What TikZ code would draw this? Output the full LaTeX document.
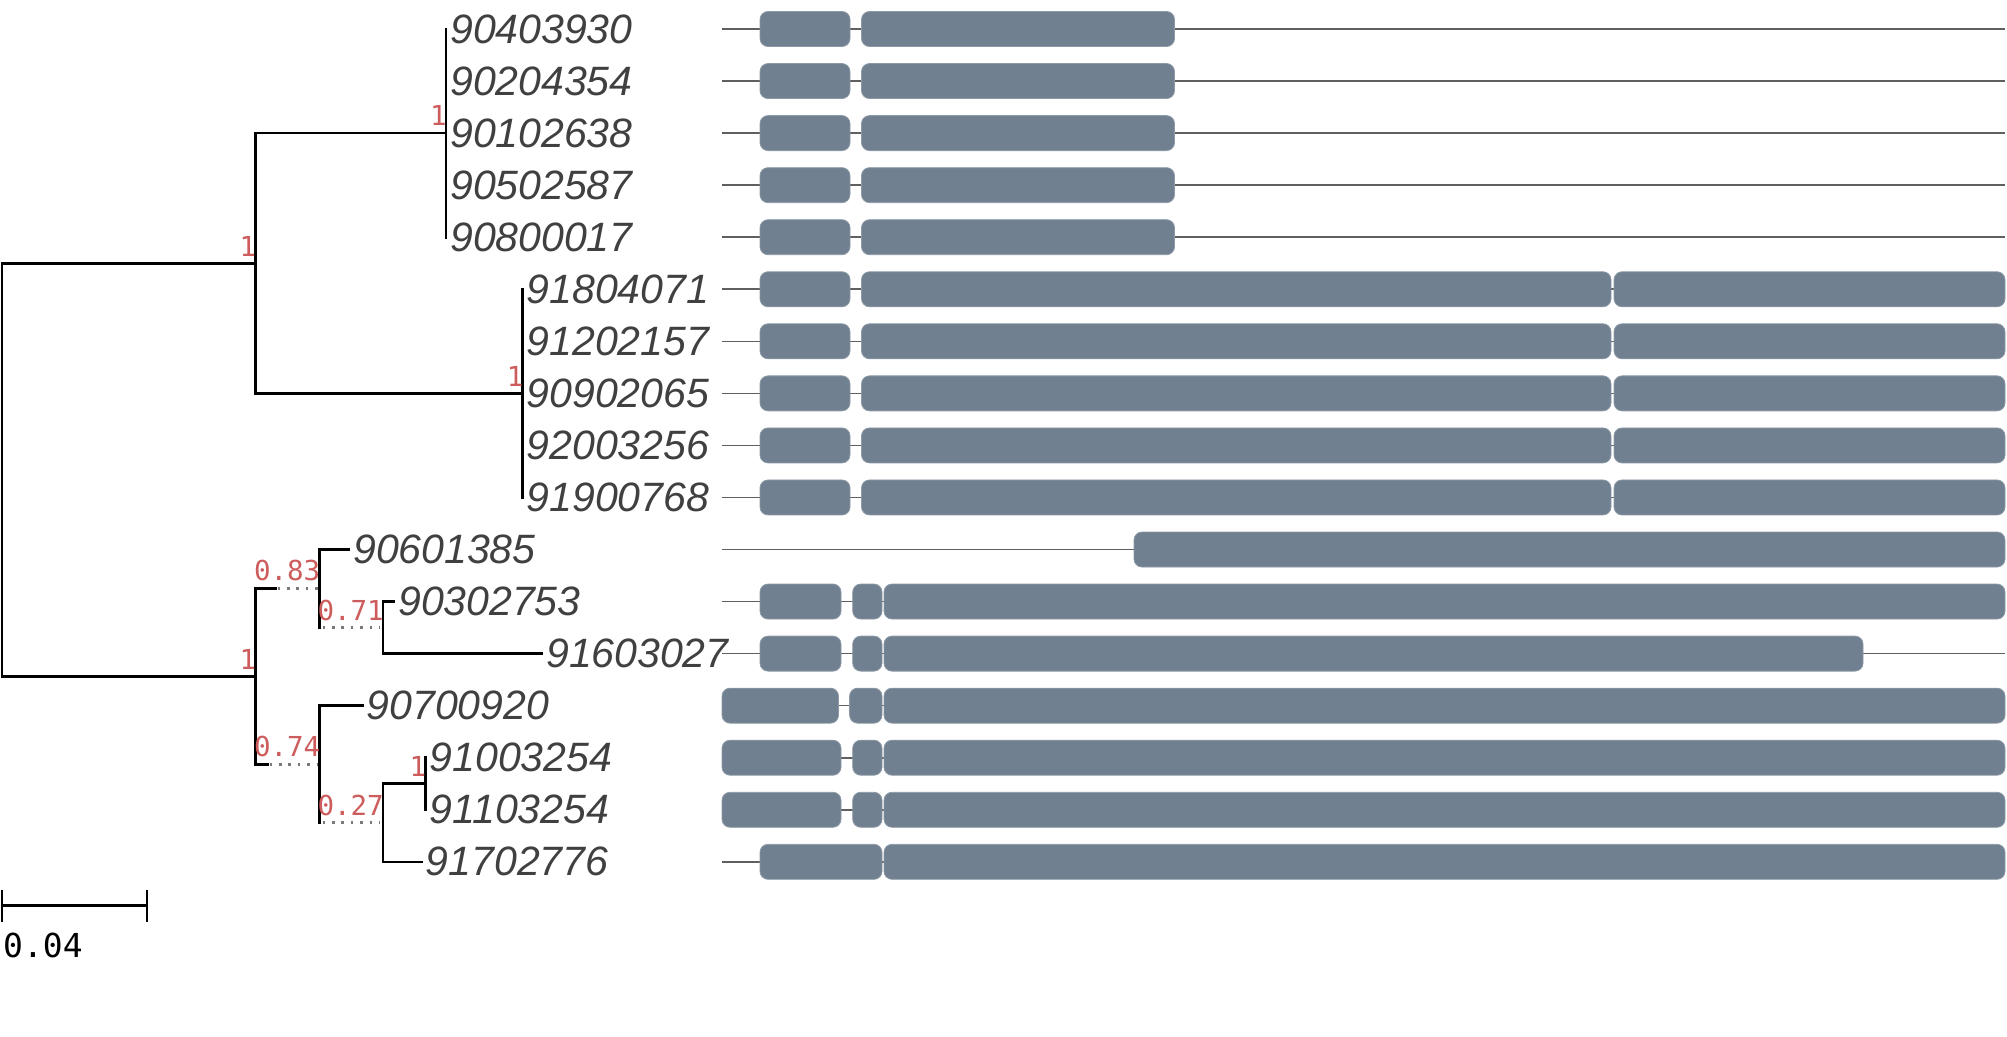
\documentclass[tikz,border=0pt]{standalone}
\usepackage{fontspec}
\setmainfont{Liberation Sans}
\newfontfamily\monof{DejaVu Sans Mono}
\definecolor{exon}{HTML}{708090}
\definecolor{exonedge}{HTML}{8C99A6}
\definecolor{bsred}{HTML}{CD5C5C}
\definecolor{taxc}{HTML}{404040}
\definecolor{intron}{HTML}{5F5F5F}
\definecolor{dotc}{HTML}{7A7A7A}
\newcommand{\rowy}[1]{29+52.05*#1}
\newcommand{\exonbox}[3]{\path[exonsty] (#2,{\rowy{#1}-17.5}) rectangle (#3,{\rowy{#1}+17.5});}
\newcommand{\genline}[3]{\draw[intronsty] (#2,{\rowy{#1}}) -- (#3,{\rowy{#1}});}
\begin{document}
\begin{tikzpicture}[x=1pt,y=-1pt,
  br/.style={line width=2.6pt, black, line cap=rect},
  dotbr/.style={line width=2.6pt, dotc, dash pattern=on 2.6pt off 6.8pt},
  tax/.style={inner sep=0pt, anchor=west, text=taxc, font=\fontsize{41}{41}\selectfont\itshape},
  bs/.style={inner sep=0pt, anchor=south east, text=bsred, font=\monof\fontsize{27.5}{27.5}\selectfont},
  exonsty/.style={fill=exon, draw=exonedge, line width=0.8pt, rounded corners=8pt},
  intronsty/.style={draw=intron, line width=1.6pt}]
\useasboundingbox (0,0) rectangle (2007,1036);

% ---------- tree coordinates ----------
\coordinate (R) at (2,469.8);
\coordinate (A) at (255.5,263.2);
\coordinate (A1) at (446,133.1);
\coordinate (A2) at (522.5,393.35);
\coordinate (B) at (255.5,676.4);
\coordinate (B1) at (319.5,588.55);
\coordinate (B11) at (383,627.6);
\coordinate (B2) at (319.5,764.2);
\coordinate (B21) at (383,822.75);
\coordinate (B211) at (425.5,783.7);

\foreach \i in {0,...,4} {\coordinate (l\i) at (446,{\rowy{\i}});}
\foreach \i in {5,...,9} {\coordinate (l\i) at (522.5,{\rowy{\i}});}
\coordinate (l10) at (349,{\rowy{10}});
\coordinate (l11) at (394,{\rowy{11}});
\coordinate (l12) at (542,{\rowy{12}});
\coordinate (l13) at (362.6,{\rowy{13}});
\coordinate (l14) at (425.5,{\rowy{14}});
\coordinate (l15) at (425.5,{\rowy{15}});
\coordinate (l16) at (421.7,{\rowy{16}});

% ---------- tree branches ----------
\draw[br] (R|-A) -- (R|-B);
\draw[br] (R|-A) -- (A);
\draw[br] (R|-B) -- (B);
\draw[br] (A|-A1) -- (A|-A2);
\draw[br] (A|-A1) -- (A1);
\draw[br] (A|-A2) -- (A2);
\draw[br] (A1|-l0) -- (A1|-l4);
\draw[br] (A2|-l5) -- (A2|-l9);
\draw[br] (B|-B1) -- (B|-B2);
\draw[br] (B|-B1) -- ([xshift=20pt]B|-B1);
\draw[dotbr] ([xshift=22pt]B|-B1) -- (B1);
\draw[br] (B|-B2) -- ([xshift=12pt]B|-B2);
\draw[dotbr] ([xshift=14pt]B|-B2) -- (B2);
\draw[br] (B1|-l10) -- (B1|-B11);
\draw[br] (B1|-l10) -- (l10);
\draw[dotbr] ([xshift=3pt]B1|-B11) -- ([xshift=-3pt]B11);
\draw[br] (B11|-l11) -- (B11|-l12);
\draw[br] (B11|-l11) -- (l11);
\draw[br] (B11|-l12) -- (l12);
\draw[br] (B2|-l13) -- (B2|-B21);
\draw[br] (B2|-l13) -- (l13);
\draw[dotbr] ([xshift=3pt]B2|-B21) -- ([xshift=-3pt]B21);
\draw[br] (B21|-B211) -- (B21|-l16);
\draw[br] (B21|-B211) -- (B211);
\draw[br] (B21|-l16) -- (l16);
\draw[br] (B211|-l14) -- (B211|-l15);

% ---------- support values ----------
\node[bs] (sA) at ([xshift=1pt,yshift=7pt]A) {1};
\node[bs] (sA1) at ([xshift=1pt,yshift=7pt]A1) {1};
\node[bs] (sA2) at ([xshift=1pt,yshift=7pt]A2) {1};
\node[bs] (sB) at ([xshift=1pt,yshift=7pt]B) {1};
\node[bs] (sB1) at ([xshift=1pt,yshift=7pt]B1) {0.83};
\node[bs] (sB11) at ([xshift=1pt,yshift=7pt]B11) {0.71};
\node[bs] (sB2) at ([xshift=1pt,yshift=7pt]B2) {0.74};
\node[bs] (sB21) at ([xshift=1pt,yshift=7pt]B21) {0.27};
\node[bs] (sB211) at ([xshift=1pt,yshift=7pt]B211) {1};

% ---------- taxon labels ----------
\node[tax] (t0) at ([xshift=4pt]l0) {90403930};
\node[tax] (t1) at ([xshift=4pt]l1) {90204354};
\node[tax] (t2) at ([xshift=4pt]l2) {90102638};
\node[tax] (t3) at ([xshift=4pt]l3) {90502587};
\node[tax] (t4) at ([xshift=4pt]l4) {90800017};
\node[tax] (t5) at ([xshift=4pt]l5) {91804071};
\node[tax] (t6) at ([xshift=4pt]l6) {91202157};
\node[tax] (t7) at ([xshift=4pt]l7) {90902065};
\node[tax] (t8) at ([xshift=4pt]l8) {92003256};
\node[tax] (t9) at ([xshift=4pt]l9) {91900768};
\node[tax] (t10) at ([xshift=4pt]l10) {90601385};
\node[tax] (t11) at ([xshift=4pt]l11) {90302753};
\node[tax] (t12) at ([xshift=4pt]l12) {91603027};
\node[tax] (t13) at ([xshift=4pt]l13) {90700920};
\node[tax] (t14) at ([xshift=4pt]l14) {91003254};
\node[tax] (t15) at ([xshift=4pt]l15) {91103254};
\node[tax] (t16) at ([xshift=4pt]l16) {91702776};

% ---------- scale bar ----------
\coordinate (s0) at (2,905.7);
\coordinate (s1) at (147,905.7);
\draw[br, line cap=butt] (s0) -- (s1);
\draw[br, line cap=butt] ([yshift=16pt]s0) -- ([yshift=-16pt]s0);
\draw[br, line cap=butt] ([yshift=16pt]s1) -- ([yshift=-16pt]s1);
\node[inner sep=0pt, anchor=north west, font=\monof\fontsize{33}{33}\selectfont] (sl) at (3,933) {0.04};

% ---------- gene structures ----------
\foreach \r in {0,...,9,11,12} {\genline{\r}{722}{2005}}
\genline{10}{722}{1134}
\genline{13}{838}{884}
\genline{14}{840}{884}
\genline{15}{840}{884}
\genline{16}{722}{884}
\foreach \r in {0,...,4} {\exonbox{\r}{760}{850}\exonbox{\r}{861.5}{1174.5}}
\foreach \r in {5,...,9} {\exonbox{\r}{760}{850}\exonbox{\r}{861.5}{1611}\exonbox{\r}{1614}{2005}}
\exonbox{10}{1134}{2005}
\exonbox{11}{760}{841}\exonbox{11}{852.7}{882}\exonbox{11}{884}{2005}
\exonbox{12}{760}{841}\exonbox{12}{852.7}{882}\exonbox{12}{884}{1863}
\exonbox{13}{722}{838.5}\exonbox{13}{849.6}{882}\exonbox{13}{884}{2005}
\exonbox{14}{722}{841}\exonbox{14}{852.7}{882}\exonbox{14}{884}{2005}
\exonbox{15}{722}{841}\exonbox{15}{852.7}{882}\exonbox{15}{884}{2005}
\exonbox{16}{760}{882}\exonbox{16}{884}{2005}
\end{tikzpicture}
\end{document}
